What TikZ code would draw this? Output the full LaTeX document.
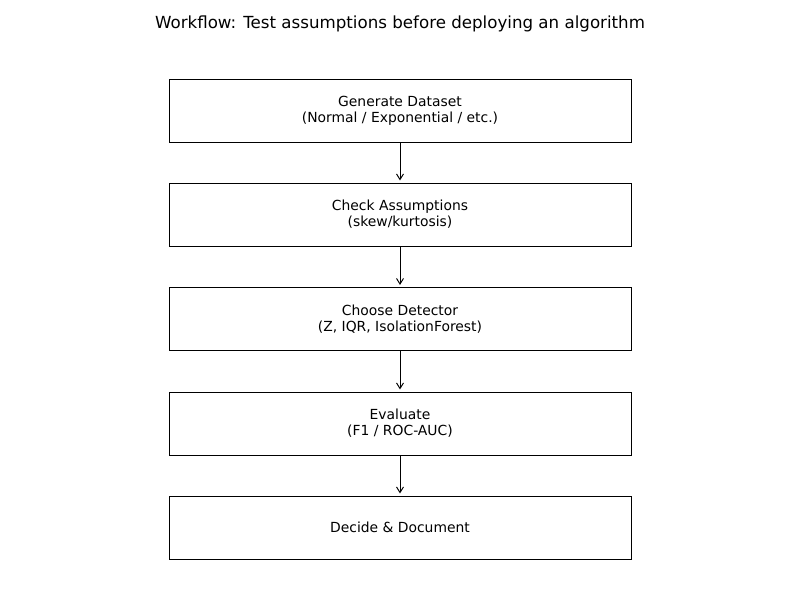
\documentclass[tikz,border=0pt]{standalone}
\usepackage{fontspec}
\setmainfont{DejaVu Sans}
\usetikzlibrary{arrows.meta}
\begin{document}
\begin{tikzpicture}[x=0.72pt,y=-0.72pt,
  stepbox/.style={draw=black, line width=0.7pt, minimum width=462*0.72pt, minimum height=63*0.72pt, inner sep=0pt, align=center, font=\fontsize{10}{11.5}\selectfont},
  flow/.style={draw=black, line width=0.7pt, -{Straight Barb[length=4pt,width=5pt]}, shorten >=1.5pt}]
\useasboundingbox (0,0) rectangle (800,600);
\node[font=\fontsize{12}{14}\selectfont] (title) at (400,24) {Workflow: Test assumptions before deploying an algorithm};
\node[stepbox] (b1) at (400,110.5) {Generate Dataset\\(Normal / Exponential / etc.)};
\node[stepbox] (b2) at (400,214.5) {Check Assumptions\\(skew/kurtosis)};
\node[stepbox] (b3) at (400,319) {Choose Detector\\(Z, IQR, IsolationForest)};
\node[stepbox] (b4) at (400,423.5) {Evaluate\\(F1 / ROC-AUC)};
\node[stepbox] (b5) at (400,527.5) {Decide \& Document};
\draw[flow] (b1) -- (b2);
\draw[flow] (b2) -- (b3);
\draw[flow] (b3) -- (b4);
\draw[flow] (b4) -- (b5);
\end{tikzpicture}
\end{document}
